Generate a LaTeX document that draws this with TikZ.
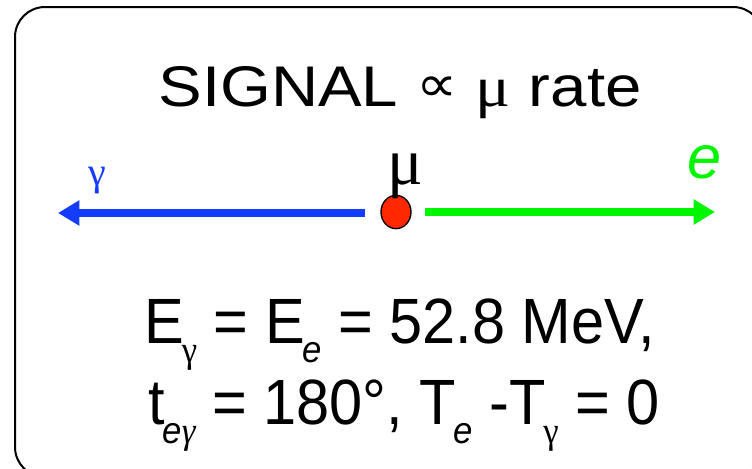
\documentclass[tikz,border=0pt]{standalone}
\usepackage{fontspec}
\setmainfont{Liberation Sans}
\newfontfamily\grk{Liberation Serif}
\newfontfamily\dvs{DejaVu Sans}
\usetikzlibrary{arrows.meta,shapes.geometric}
\definecolor{gblue}{RGB}{20,60,255}
\definecolor{egreen}{RGB}{0,245,0}
\definecolor{mured}{RGB}{255,40,0}
\newcommand{\lsub}[1]{\kern-0.04em\relax\raisebox{-0.3em}{\fontsize{28}{28}\selectfont #1}}
\begin{document}
\begin{tikzpicture}[x=0.75pt,y=-0.75pt,
  bigtext/.style={inner sep=0pt, anchor=base, font=\fontsize{48}{52}\selectfont},
  arr/.style={line width=6pt, -{Triangle[length=16pt,width=18pt]}}]
\useasboundingbox (0,0) rectangle (752,468);
\clip (0,0) rectangle (752,468);
\draw[line width=1.5pt, rounded corners=22.5pt] (15,7) rectangle (763,477);

\node[bigtext, font=\fontsize{43}{46}\selectfont] (title) at (400,106)
  {\scalebox{1.14}[1]{SIGNAL {\dvs\fontsize{38}{38}\selectfont\raisebox{0.08em}{∝}} {\grk μ} rate}};

\node[draw=black, line width=1pt, fill=mured, ellipse, minimum width=22.5pt, minimum height=25pt, inner sep=0pt] (mu) at (396,212) {};
\node[inner sep=0pt, anchor=base, font=\grk\fontsize{50}{50}\selectfont] (mulab) at (405,184) {μ};

\coordinate (bstart) at (365,213);
\coordinate (btip) at (58,213);
\coordinate (gstart) at (425,212);
\coordinate (gtip) at (715,212);
\draw[arr, gblue] (bstart) -- (btip);
\draw[arr, egreen] (gstart) -- (gtip);

\node[inner sep=0pt, anchor=base, text=gblue, font=\grk\fontsize{30}{30}\selectfont] (glab) at (97,185) {γ};
\node[inner sep=0pt, anchor=base, text=egreen, font=\itshape\fontsize{46}{46}\selectfont] (elab) at (705,178) {e};

\node[bigtext] (line1) at (400,343)
  {\scalebox{0.93}[1]{E\lsub{\grk γ} = E\lsub{\itshape e} = 52.8 MeV,}};
\node[bigtext] (line2) at (404,424)
  {\scalebox{0.93}[1]{t\lsub{\itshape e\grk γ} = 180°, T\lsub{\itshape e} -T\lsub{\grk γ} = 0}};
\end{tikzpicture}
\end{document}
